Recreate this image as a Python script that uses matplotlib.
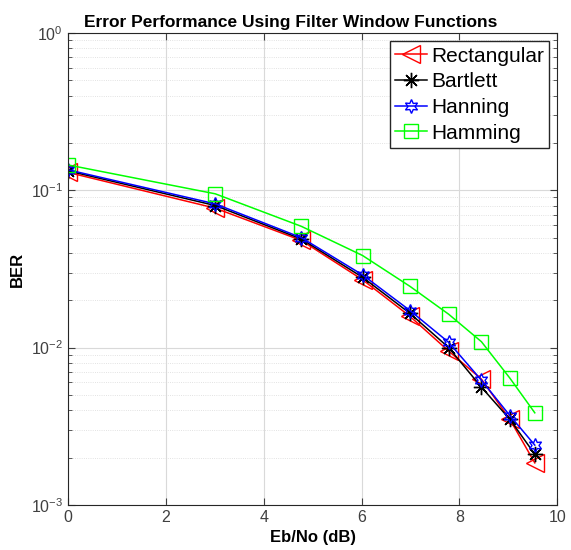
import numpy as np
import matplotlib.pyplot as plt

plt.rcParams['font.family'] = ['Liberation Sans', 'DejaVu Sans']

# Eb/No points (dB)
ebno = [0, 3.01, 4.77, 6.02, 6.99, 7.78, 8.45, 9.03, 9.54]

ber_rect = [0.130, 0.077, 0.048, 0.027, 0.0158, 0.0095, 0.0063, 0.0035, 0.00185]
ber_bart = [0.133, 0.080, 0.049, 0.028, 0.0165, 0.0100, 0.0056, 0.0035, 0.00210]
ber_hann = [0.135, 0.082, 0.050, 0.029, 0.0172, 0.0108, 0.0062, 0.0037, 0.00240]
ber_hamm = [0.145, 0.095, 0.059, 0.0385, 0.0245, 0.0163, 0.0109, 0.0064, 0.00385]

series = [
    ("Rectangular", ber_rect, "red", "<", 13),
    ("Bartlett", ber_bart, "black", (8, 2, 0), 11),
    ("Hanning", ber_hann, "blue", (6, 1, 0), 10),
    ("Hamming", ber_hamm, "#00ff00", "s", 10),
]

fig = plt.figure(figsize=(5.71, 5.5), dpi=100)
ax = fig.add_axes([0.119, 0.082, 0.857, 0.858])

for name, vals, col, mk, ms in series:
    ax.semilogy(ebno, vals, color=col, marker=mk, markersize=ms,
                markerfacecolor='none', markeredgecolor=col, lw=1.1,
                mew=1.0, label=name)

ax.set_xlim(0, 10)
ax.set_ylim(1e-3, 1)
ax.set_xticks([0, 2, 4, 6, 8, 10])
ax.grid(True, which='major', color='#d9d9d9', lw=0.8)
ax.grid(True, which='minor', color='#d9d9d9', lw=0.6, ls=':')
ax.tick_params(which='both', direction='in', top=True, right=True,
               labelsize=11.5, colors='#404040')
ax.tick_params(which='major', length=5)
ax.tick_params(which='minor', length=3)
for s in ax.spines.values():
    s.set_color('#262626')

ax.set_title("Error Performance Using Filter Window Functions",
             fontsize=12.5, fontweight='bold', pad=4, x=0.455)
ax.set_xlabel("Eb/No (dB)", fontsize=12, fontweight='bold')
ax.set_ylabel("BER", fontsize=12, fontweight='bold')

leg = ax.legend(loc='upper right', fontsize=15, fancybox=False,
                framealpha=1, edgecolor='#262626', handlelength=1.5,
                handletextpad=0.2, borderpad=0.25, labelspacing=0.32,
                borderaxespad=0.4)
leg.get_frame().set_linewidth(1.0)

fig.savefig("out.png", dpi=100)
